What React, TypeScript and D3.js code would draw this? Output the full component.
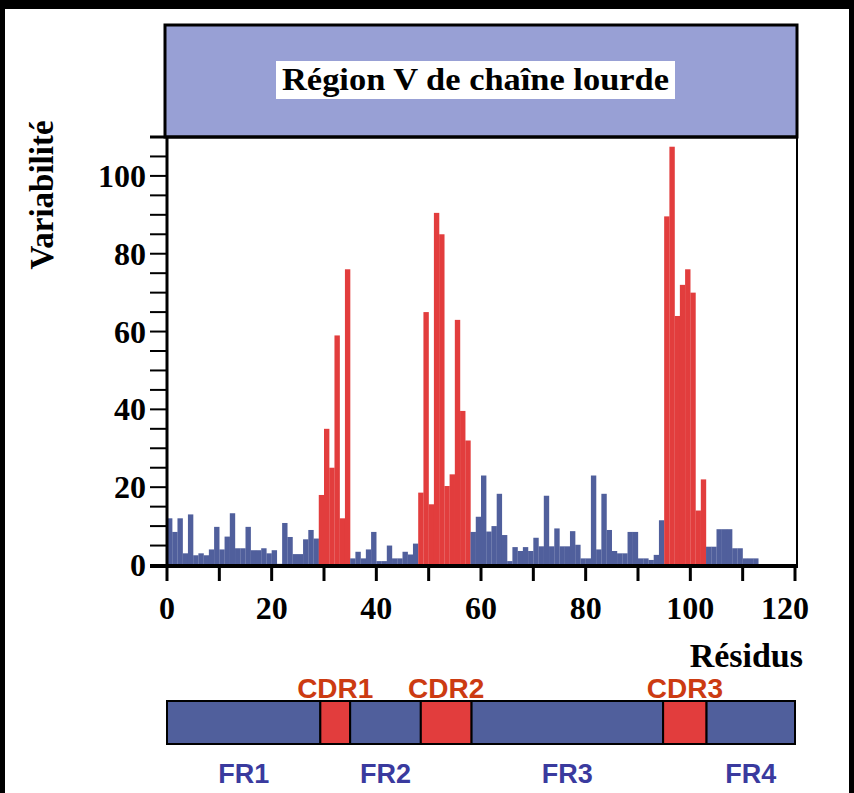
import React from "react";
import * as d3 from "d3";

// Variability per residue (residue 1..113)
const variability: number[] = [
  12, 8.5, 12, 3, 13, 2.5, 3, 2.5, 4, 9.8,
  4, 7.3, 13.3, 4.3, 4.3, 9.8, 3.8, 3.8, 4.3, 3,
  3.8, 0.3, 10.8, 7.2, 2.8, 2.8, 6.6, 9, 6.8, 18,
  35, 25, 59, 12, 76, 1.7, 3.4, 1.7, 4, 8.5,
  1, 1, 5, 1.7, 1.7, 3.4, 2.7, 5.5, 18.6, 65,
  15.6, 90.5, 85, 20.3, 23.3, 63, 39.6, 32, 8.5, 12.4,
  23, 8.6, 10, 18.3, 7.7, 1, 4.6, 3.6, 4.6, 3.6,
  7, 4.8, 17.8, 4.8, 9.4, 4.8, 4.8, 8.7, 5.2, 1.7,
  1.7, 23, 4, 18.3, 9, 3.6, 3, 3, 8.5, 8.5,
  1.7, 1.7, 1.3, 2.6, 11.5, 89.6, 107.5, 64, 72, 76,
  70, 14, 22, 4.7, 4.7, 9.2, 9.2, 9.2, 4.3, 4.3,
  1.7, 1.7, 1.7,
];

// CDR residue ranges (inclusive)
const cdrStarts = [30, 49, 96];
const cdrEnds = [35, 58, 103];

// Domain map segments (residue units)
const segmentNames = ["FR1", "CDR1", "FR2", "CDR2", "FR3", "CDR3", "FR4"];
const segmentBounds = [0, 29.3, 35, 48.5, 58.2, 94.8, 103.1, 120];
const segmentIsCdr = [false, true, false, true, false, true, false];

const xTickValues = d3.range(0, 121, 10);
const xTickLabels = [0, 20, 40, 60, 80, 100, 120];
const yTickValues = d3.range(0, 111, 5);
const yTickLabels = [0, 20, 40, 60, 80, 100];

const title = "Région V de chaîne lourde";
const yTitle = "Variabilité";
const xTitle = "Résidus";

const BLUE = "#505f9c";
const RED = "#e23d3d";
const HEADER = "#98a0d5";
const CDR_TEXT = "#cc3b12";
const FR_TEXT = "#3a3a9e";
const SERIF = "'Liberation Serif', 'Times New Roman', serif";
const SANS = "'Liberation Sans', Arial, sans-serif";

export default function App() {
  const W = 854, H = 793;
  const x = d3.scaleLinear().domain([0, 120]).range([167, 795]);
  const y = d3.scaleLinear().domain([0, 110]).range([565, 137]);
  const isCdr = (r: number) => cdrStarts.some((s, i) => r >= s && r <= cdrEnds[i]);

  const barTop = 701, barBottom = 744;

  return (
    <svg width={W} height={H} style={{ position: "absolute", left: 0, top: 0, background: "#fff" }}>
      <rect x={0} y={0} width={W} height={H} fill="#fff" />
      {/* outer frame */}
      <rect x={0} y={0} width={W} height={9} fill="#000" />
      <rect x={0} y={0} width={5} height={H} fill="#000" />
      <rect x={849} y={0} width={5} height={H} fill="#000" />

      {/* header band */}
      <rect x={165} y={25} width={632} height={112} fill={HEADER} stroke="#000" strokeWidth={3} />
      <rect x={276} y={61} width={399} height={38} fill="#fff" />
      <text x={475.5} y={90} textAnchor="middle" fontFamily={SERIF} fontWeight="bold" fontSize={31}
        textLength={387} lengthAdjust="spacingAndGlyphs" fill="#000">{title}</text>

      {/* bars */}
      {variability.map((v, i) => {
        const r = i + 1;
        return (
          <rect key={r} x={x(r - 1)} y={y(v)} width={x(r) - x(r - 1) + 0.15} height={y(0) - y(v)}
            fill={isCdr(r) ? RED : BLUE} />
        );
      })}

      {/* plot right border */}
      <line x1={797} x2={797} y1={137} y2={566} stroke="#000" strokeWidth={2} />
      {/* header bottom line */}
      <line x1={150} x2={798} y1={137} y2={137} stroke="#000" strokeWidth={3} />

      {/* y axis */}
      <line x1={167} x2={167} y1={136} y2={568} stroke="#000" strokeWidth={3} />
      {yTickValues.map((t) => (
        <line key={"yt" + t} x1={150} x2={167} y1={y(t)} y2={y(t)} stroke="#000" strokeWidth={2} />
      ))}
      {yTickLabels.map((t) => (
        <text key={"yl" + t} x={146} y={y(t) + 11} textAnchor="end" fontFamily={SERIF}
          fontWeight="bold" fontSize={32} fill="#000">{t}</text>
      ))}

      {/* x axis */}
      <line x1={150} x2={798} y1={566} y2={566} stroke="#000" strokeWidth={4} />
      {xTickValues.map((t) => (
        <line key={"xt" + t} x1={x(t)} x2={x(t)} y1={566} y2={581} stroke="#000" strokeWidth={3} />
      ))}
      {xTickLabels.map((t) => (
        <text key={"xl" + t} x={x(t) - (t === 120 ? 10 : 0)} y={619} textAnchor="middle" fontFamily={SERIF}
          fontWeight="bold" fontSize={32} fill="#000">{t}</text>
      ))}

      {/* axis titles */}
      <text transform="translate(53,195) rotate(-90)" textAnchor="middle" fontFamily={SERIF}
        fontWeight="bold" fontSize={33} fill="#000">{yTitle}</text>
      <text x={803} y={667} textAnchor="end" fontFamily={SERIF} fontWeight="bold" fontSize={34}
        fill="#000">{xTitle}</text>

      {/* domain map */}
      {segmentNames.map((name, i) => {
        const x0 = x(segmentBounds[i]);
        const x1 = x(segmentBounds[i + 1]);
        const cx = (x0 + x1) / 2;
        return (
          <g key={name}>
            <rect x={x0} y={barTop} width={x1 - x0} height={barBottom - barTop}
              fill={segmentIsCdr[i] ? RED : BLUE} stroke="#000" strokeWidth={2} />
            {segmentIsCdr[i] ? (
              <text x={cx} y={698} textAnchor="middle" fontFamily={SANS} fontWeight="bold"
                fontSize={28} fill={CDR_TEXT}>{name}</text>
            ) : (
              <text x={cx} y={783} textAnchor="middle" fontFamily={SANS} fontWeight="bold"
                fontSize={27} fill={FR_TEXT}>{name}</text>
            )}
          </g>
        );
      })}
    </svg>
  );
}
